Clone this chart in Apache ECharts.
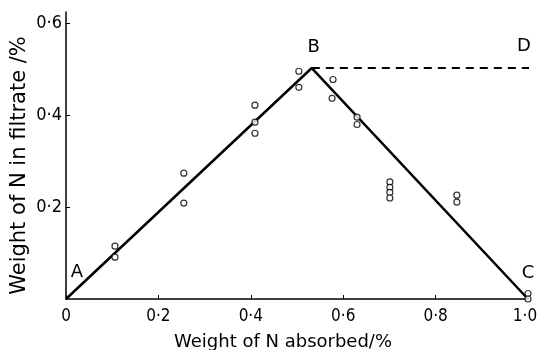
<!DOCTYPE html>
<html>
<head>
<meta charset="utf-8">
<script src="https://cdn.jsdelivr.net/npm/echarts@6/dist/echarts.min.js"></script>
<style>
  html, body { margin: 0; padding: 0; background: #fff; }
  #chart { width: 539px; height: 350px; }
</style>
</head>
<body>
<div id="chart"></div>
<script>
  // measured points (weight absorbed, weight in filtrate)
  const absorbed = [0.106, 0.106, 0.255, 0.255, 0.409, 0.409, 0.409, 0.504, 0.504,
                    0.578, 0.576, 0.630, 0.630, 0.701, 0.701, 0.701, 0.701, 0.846, 0.846, 1.0, 1.0]
  const filtrate = [0.115, 0.091, 0.274, 0.209, 0.422, 0.385, 0.361, 0.496, 0.461,
                    0.478, 0.437, 0.396, 0.380, 0.255, 0.243, 0.232, 0.220, 0.226, 0.211, 0.012, 0.0]

  // solid line A - B - C
  const lineX = [0, 0.532, 1.0]
  const lineY = [0, 0.503, 0]
  const lineNames = ['A', 'B', 'C']

  // dashed line B - D
  const dashX = [0.532, 1.0, 1.02]
  const dashY = [0.503, 0.503, 0.503]

  const xTicks = ['0', '0·2', '0·4', '0·6', '0·8', '1·0']
  const yTickValues = [0.2, 0.4, 0.6]
  const yTicks = ['0·2', '0·4', '0·6']

  const tickFont = '"DejaVu Sans Condensed", "Liberation Sans Narrow", "DejaVu Sans", sans-serif'
  const titleFont = '"DejaVu Sans", sans-serif'

  const chartDom = document.getElementById('chart')
  const myChart = echarts.init(chartDom)

  //  label offsets for the letters
  const labelOffsets = {A: [11, -27], B: [2, -21], C: [0, -26]}

  const letterLabel = {
    show: true,
    position: 'inside',
    fontSize: 18,
    fontFamily: titleFont,
    color: '#000'
  }

  const lineData = lineX.map(function (x, i) {
    return {
      value: [x, lineY[i]],
      label: Object.assign({}, letterLabel, {
        formatter: lineNames[i],
        offset: labelOffsets[lineNames[i]]
      })
    }
  })

  const dashData = dashX.map(function (x, i) {
    const item = {value: [x, dashY[i]], label: {show: false}}
    if (i === 1) {
      item.label = Object.assign({}, letterLabel, {
        formatter: 'D',
        offset: [-4, -22]
      })
    }
    return item
  })

  const pointData = absorbed.map(function (x, i) {
    return [x, filtrate[i]]
  })

  let option
  option = {
    animation: false,
    backgroundColor: '#fff',
    grid: {
      left: 66,
      right: 11,
      top: 12,
      bottom: 51,
      outerBoundsMode: 'none'
    },
    xAxis: {
      type: 'value',
      min: 0,
      max: 1.0,
      interval: 0.2,
      name: 'Weight of N absorbed/%',
      nameLocation: 'middle',
      nameGap: 34,
      nameMoveOverlap: false,
      nameTextStyle: {
        fontSize: 18,
        fontFamily: titleFont,
        color: '#000',
        padding: [0, 28, 0, 0]
      },
      axisLine: {
        lineStyle: {color: '#000', width: 1.5}
      },
      axisTick: {
        inside: true,
        length: 4,
        lineStyle: {color: '#000', width: 1}
      },
      axisLabel: {
        margin: 9,
        fontSize: 17,
        fontFamily: tickFont,
        color: '#000',
        formatter: function (val) {
          const idx = Math.round(val / 0.2)
          return idx === xTicks.length - 1 ? '{last|' + xTicks[idx] + '}' : xTicks[idx]
        },
        rich: {
          last: {
            fontSize: 17,
            fontFamily: tickFont,
            color: '#000',
            padding: [0, 6, 0, 0]
          }
        }
      },
      splitLine: {show: false}
    },
    yAxis: {
      type: 'value',
      min: 0,
      max: 0.625,
      name: 'Weight of N in filtrate /%',
      nameLocation: 'middle',
      nameGap: 36,
      nameRotate: 90,
      nameMoveOverlap: false,
      nameTextStyle: {
        fontSize: 21,
        fontFamily: titleFont,
        color: '#000',
        padding: [0, 20, 0, 0]
      },
      axisLine: {
        show: true,
        lineStyle: {color: '#000', width: 1.5}
      },
      axisTick: {
        show: true,
        inside: true,
        length: 4,
        customValues: yTickValues,
        lineStyle: {color: '#000', width: 1}
      },
      axisLabel: {
        margin: 4,
        fontSize: 18,
        fontFamily: tickFont,
        color: '#000',
        customValues: yTickValues,
        formatter: function (val) {
          return yTicks[Math.round(val / 0.2) - 1]
        }
      },
      splitLine: {show: false}
    },
    series: [
      {
        type: 'line',
        data: lineData,
        symbol: 'circle',
        symbolSize: 0,
        showSymbol: true,
        clip: false,
        lineStyle: {color: '#000', width: 2.5},
        z: 2
      },
      {
        type: 'line',
        data: dashData,
        symbol: 'circle',
        symbolSize: 0,
        showSymbol: true,
        clip: false,
        lineStyle: {color: '#000', width: 2, type: [8, 6]},
        z: 2
      },
      {
        type: 'scatter',
        data: pointData,
        symbol: 'circle',
        symbolSize: 6,
        clip: false,
        itemStyle: {
          color: '#fff',
          borderColor: '#000',
          borderWidth: 1.2
        },
        z: 3
      }
    ]
  }

  option && myChart.setOption(option)
</script>
</body>
</html>
